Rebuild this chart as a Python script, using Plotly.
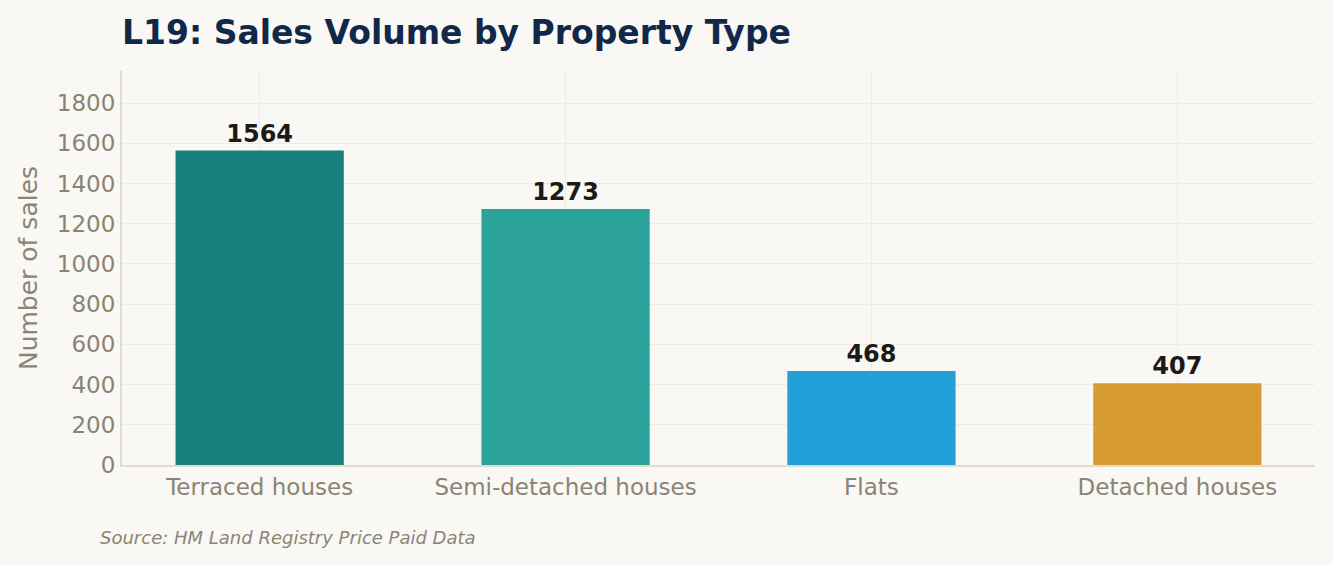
import plotly.graph_objects as go

categories = ["Terraced houses", "Semi-detached houses", "Flats", "Detached houses"]
sales = [1564, 1273, 468, 407]
bar_colors = ["#177F7E", "#2BA39A", "#239FD9", "#D89A33"]

FONT = "DejaVu Sans"
BG = "#F9F8F4"
GRID = "#EFEBE3"
AXIS = "#E2DCCD"
MUTED = "#8A8474"

fig = go.Figure(go.Bar(
    x=categories,
    y=sales,
    marker=dict(color=bar_colors, line=dict(width=0)),
    width=0.55,
    text=[str(v) for v in sales],
    textposition="outside",
    cliponaxis=False,
    textfont=dict(family=FONT, size=24, color="#1C1A17", weight="bold"),
    hoverinfo="skip",
))

fig.update_layout(
    width=1333, height=565,
    paper_bgcolor=BG, plot_bgcolor=BG,
    margin=dict(l=122, r=18, t=71, b=100),
    showlegend=False,
    font=dict(family=FONT, color=MUTED),
    title=dict(
        text="<b>L19: Sales Volume by Property Type</b>",
        x=122 / 1333, xanchor="left",
        y=1 - 32 / 565, yanchor="middle",
        font=dict(family=FONT, size=33, color="#12284A"),
    ),
    xaxis=dict(
        showgrid=True, gridcolor=GRID, gridwidth=1,
        showline=True, linecolor=AXIS, linewidth=2,
        ticks="", tickfont=dict(size=23, color=MUTED),
        range=[-0.45, 3.45],
    ),
    yaxis=dict(
        range=[0, 1564 * 1.253],
        tick0=0, dtick=200,
        showgrid=True, gridcolor=GRID, gridwidth=1,
        showline=True, linecolor=AXIS, linewidth=2,
        zeroline=False,
        ticks="", ticklen=0,
        tickfont=dict(size=23, color=MUTED),
        title=dict(text="Number of sales", font=dict(size=25, color=MUTED), standoff=12),
    ),
    annotations=[dict(
        text="<i>Source: HM Land Registry Price Paid Data</i>",
        xref="paper", yref="paper",
        x=(98 - 122) / (1333 - 140), y=-72 / 394,
        xanchor="left", yanchor="middle",
        showarrow=False,
        font=dict(family=FONT, size=18, color=MUTED),
    )],
)

# page body has a default 8px margin; drop it so the figure fills the window
fig.write_html(
    "out.html",
    config={"displayModeBar": False},
    post_script="document.body.style.margin='0';document.body.style.background='%s';" % BG,
)
